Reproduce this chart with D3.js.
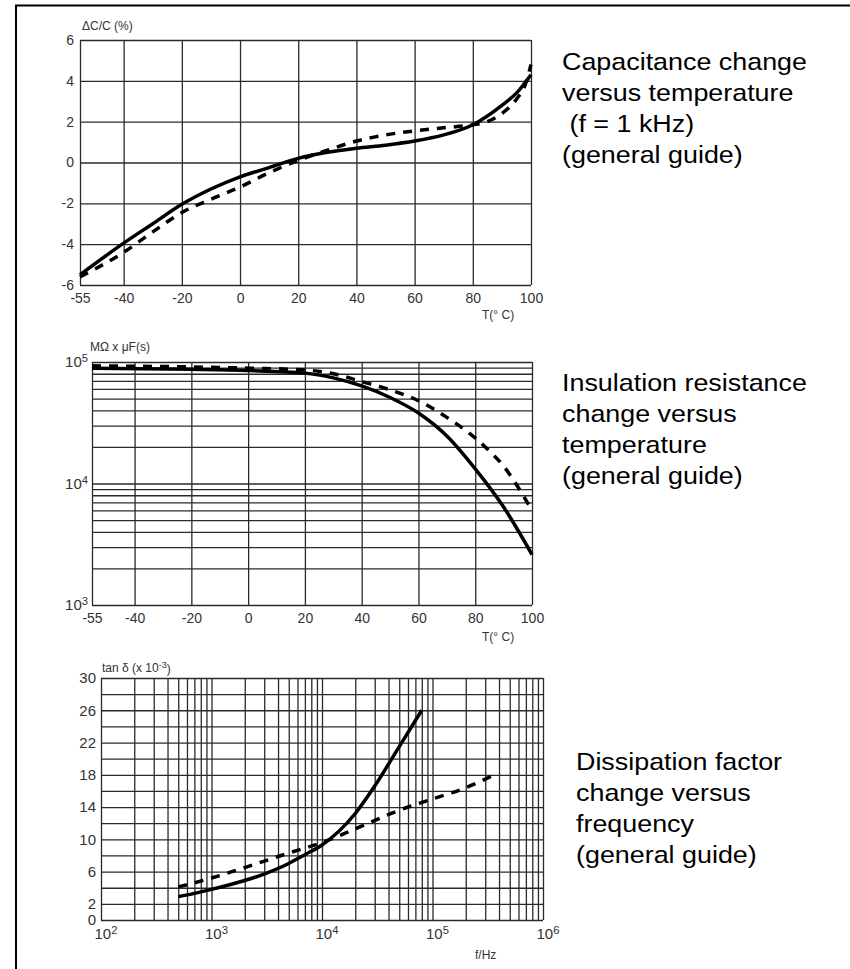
<!DOCTYPE html>
<html>
<head>
<meta charset="utf-8">
<script src="https://cdn.jsdelivr.net/npm/d3@7"></script>
<style>
  body { margin: 0; background: #fff; }
  svg { display: block; }
  .tick text { font-family: "Liberation Sans", Arial, sans-serif; fill: #333; }
</style>
</head>
<body>
<div id="chart"></div>
<script>
// capacitance change vs temperature
const tempTicks = [-55, -40, -20, 0, 20, 40, 60, 80, 100];
const capTicks = [-6, -4, -2, 0, 2, 4, 6];
const capTemp = [-55, -40, -30, -20, -10, 0, 10, 20, 30, 40, 50, 60, 70, 80, 90, 95, 100];
const capSolid = [-5.5, -3.95, -3.0, -2.05, -1.3, -0.7, -0.25, 0.2, 0.5, 0.7, 0.85, 1.05, 1.35, 1.85, 2.8, 3.4, 4.3];
const capDashTemp = [-55, -40, -30, -20, -10, 0, 10, 20, 30, 40, 50, 60, 70, 80, 85, 90, 95, 98, 100];
const capDashed = [-5.6, -4.4, -3.4, -2.45, -1.8, -1.2, -0.5, 0.1, 0.6, 1.05, 1.35, 1.55, 1.7, 1.85, 2.0, 2.4, 3.1, 3.8, 4.8];

// insulation resistance vs temperature
const irTemp = [-55, -20, 0, 20, 30, 40, 50, 60, 70, 80, 90, 100];
const irSolid = [89000, 87000, 85000, 81000, 74000, 63500, 51000, 38000, 24600, 13200, 6400, 2600];
const irDashTemp = [-55, 0, 20, 30, 40, 50, 60, 70, 80, 85, 90, 95, 100];
const irDashed = [93000, 89000, 86000, 80000, 69000, 59000, 48000, 35000, 23700, 18500, 13900, 9400, 6000];

// dissipation factor vs frequency
const dfTicks = [0, 2, 6, 10, 14, 18, 22, 26, 30];
const freqSolid = [500, 700, 1000, 2000, 3000, 5000, 7000, 10000, 20000, 30000, 50000, 80000];
const dfSolid = [2.9, 3.3, 3.8, 4.9, 5.7, 7.0, 8.1, 9.3, 13.2, 16.6, 21.5, 26.0];
const freqDashed = [500, 1000, 2000, 5000, 10000, 20000, 50000, 100000, 200000, 350000];
const dfDashed = [4.1, 5.2, 6.5, 8.3, 9.6, 11.3, 13.6, 15.0, 16.4, 17.9];

const captions = [
  ["Capacitance change", "versus temperature", " (f = 1 kHz)", "(general guide)"],
  ["Insulation resistance", "change versus", "temperature", "(general guide)"],
  ["Dissipation factor", "change versus", "frequency", "(general guide)"]
];

const width = 850, height = 969;
const font = '"Liberation Sans", Arial, sans-serif';
const plain = d => String(d);   // hyphen minus, like the scan

const svg = d3.select("#chart").append("svg")
  .attr("width", width)
  .attr("height", height);

// outer frame (left + top edges)
svg.append("path")
  .attr("d", `M16,${height} L16,5.5 L${width},5.5`)
  .attr("fill", "none")
  .attr("stroke", "#000")
  .attr("stroke-width", 2);

const gridColor = "#2a2a2a";

function styleGrid(g) {
  g.select(".domain").remove();
  g.selectAll(".tick line").attr("stroke", gridColor).attr("stroke-width", 1.3);
}

function drawCurve(g, x, y, xs, ys, dashed) {
  const line = d3.line()
    .x(d => x(d[0]))
    .y(d => y(d[1]))
    .curve(d3.curveMonotoneX);
  g.append("path")
    .datum(xs.map((v, i) => [v, ys[i]]))
    .attr("d", line)
    .attr("fill", "none")
    .attr("stroke", "#000")
    .attr("stroke-width", 3.5)
    .attr("stroke-dasharray", dashed ? "9,8" : null);
}

function addPow(sel, base, exp) {
  sel.text(null);
  sel.append("tspan").text(base);
  sel.append("tspan").attr("dy", "-0.45em").attr("font-size", "0.75em").text(exp);
}

function caption(lines, x, y) {
  const t = svg.append("g")
    .attr("transform", `translate(${x},${y}) scale(1.12,1)`);
  lines.forEach((s, i) => {
    t.append("text")
      .attr("x", 0)
      .attr("y", i * 31)
      .attr("font-family", font)
      .attr("font-size", 24)
      .attr("fill", "#000")
      .style("white-space", "pre")
      .text(s);
  });
}

// ---------- chart 1 ----------
{
  const x = d3.scaleLinear().domain([-55, 100]).range([80, 531]);
  const y = d3.scaleLinear().domain([-6, 6]).range([285, 40]);
  const g = svg.append("g");

  g.append("g")
    .attr("transform", "translate(0,285)")
    .call(d3.axisBottom(x).tickValues(tempTicks).tickSize(-245).tickPadding(6).tickFormat(plain))
    .call(styleGrid)
    .selectAll("text").attr("font-size", 14).attr("dy", "0.85em");

  g.append("g")
    .attr("transform", "translate(80,0)")
    .call(d3.axisLeft(y).tickValues(capTicks).tickSize(-451).tickPadding(6).tickFormat(plain))
    .call(styleGrid)
    .selectAll("text").attr("font-size", 14);

  g.append("text").attr("x", 82).attr("y", 30).attr("font-family", font).attr("font-size", 12)
    .attr("fill", "#333").text("ΔC/C (%)");
  g.append("text").attr("x", 482).attr("y", 319).attr("font-family", font).attr("font-size", 12)
    .attr("fill", "#333").text("T(° C)");

  drawCurve(g, x, y, capDashTemp, capDashed, true);
  drawCurve(g, x, y, capTemp, capSolid, false);
}

// ---------- chart 2 ----------
{
  const x = d3.scaleLinear().domain([-55, 100]).range([92, 532]);
  const y = d3.scaleLog().domain([1000, 100000]).range([605, 362]);
  const g = svg.append("g");

  const minor = [];
  for (let p = 1000; p < 100000; p *= 10) for (let k = 1; k < 10; k++) minor.push(p * k);
  minor.push(100000);

  g.append("g")
    .attr("transform", "translate(92,0)")
    .call(d3.axisLeft(y).tickValues(minor).tickSize(-440).tickFormat(""))
    .call(styleGrid);

  g.append("g")
    .attr("transform", "translate(0,605)")
    .call(d3.axisBottom(x).tickValues(tempTicks).tickSize(-243).tickPadding(6).tickFormat(plain))
    .call(styleGrid)
    .selectAll("text").attr("font-size", 14).attr("dy", "0.85em");

  const labels = g.append("g")
    .attr("transform", "translate(92,0)")
    .call(d3.axisLeft(y).tickValues([1000, 10000, 100000]).tickSize(0).tickPadding(4));
  labels.select(".domain").remove();
  labels.selectAll("text").attr("font-size", 15)
    .each(function (d) { addPow(d3.select(this), "10", Math.round(Math.log10(d))); });

  g.append("text").attr("x", 90).attr("y", 351).attr("font-family", font).attr("font-size", 12)
    .attr("fill", "#333").text("MΩ x μF(s)");
  g.append("text").attr("x", 482).attr("y", 641).attr("font-family", font).attr("font-size", 12)
    .attr("fill", "#333").text("T(° C)");

  drawCurve(g, x, y, irDashTemp, irDashed, true);
  drawCurve(g, x, y, irTemp, irSolid, false);
}

// ---------- chart 3 ----------
{
  const x = d3.scaleLog().domain([100, 1000000]).range([101, 543]);
  const y = d3.scaleLinear().domain([0, 30]).range([920, 678]);
  const g = svg.append("g");

  const minor = [];
  for (let p = 100; p < 1000000; p *= 10) for (let k = 1; k < 10; k++) minor.push(p * k);
  minor.push(1000000);

  g.append("g")
    .attr("transform", "translate(0,920)")
    .call(d3.axisBottom(x).tickValues(minor).tickSize(-242).tickFormat(""))
    .call(styleGrid);

  g.append("g")
    .attr("transform", "translate(101,0)")
    .call(d3.axisLeft(y).tickValues(d3.range(0, 31, 2)).tickSize(-442).tickFormat(""))
    .call(styleGrid);

  const yl = g.append("g")
    .attr("transform", "translate(101,0)")
    .call(d3.axisLeft(y).tickValues(dfTicks).tickSize(0).tickPadding(5));
  yl.select(".domain").remove();
  yl.selectAll("text").attr("font-size", 15);

  const xl = g.append("g")
    .attr("transform", "translate(0,920)")
    .call(d3.axisBottom(x).tickValues([100, 1000, 10000, 100000, 1000000]).tickSize(0).tickPadding(8));
  xl.select(".domain").remove();
  xl.selectAll("text").attr("font-size", 15).attr("dx", "0.3em")
    .each(function (d) { addPow(d3.select(this), "10", Math.round(Math.log10(d))); });

  const yt = g.append("text").attr("x", 102).attr("y", 672).attr("font-family", font).attr("font-size", 12)
    .attr("fill", "#333");
  yt.append("tspan").text("tan δ (x 10");
  yt.append("tspan").attr("dy", "-0.45em").attr("font-size", "0.75em").text("-3");
  yt.append("tspan").attr("dy", "0.45em").text(")");
  g.append("text").attr("x", 475).attr("y", 959).attr("font-family", font).attr("font-size", 12)
    .attr("fill", "#333").text("f/Hz");

  drawCurve(g, x, y, freqDashed, dfDashed, true);
  drawCurve(g, x, y, freqSolid, dfSolid, false);
}

caption(captions[0], 562, 70);
caption(captions[1], 562, 391);
caption(captions[2], 576, 770);
</script>
</body>
</html>
